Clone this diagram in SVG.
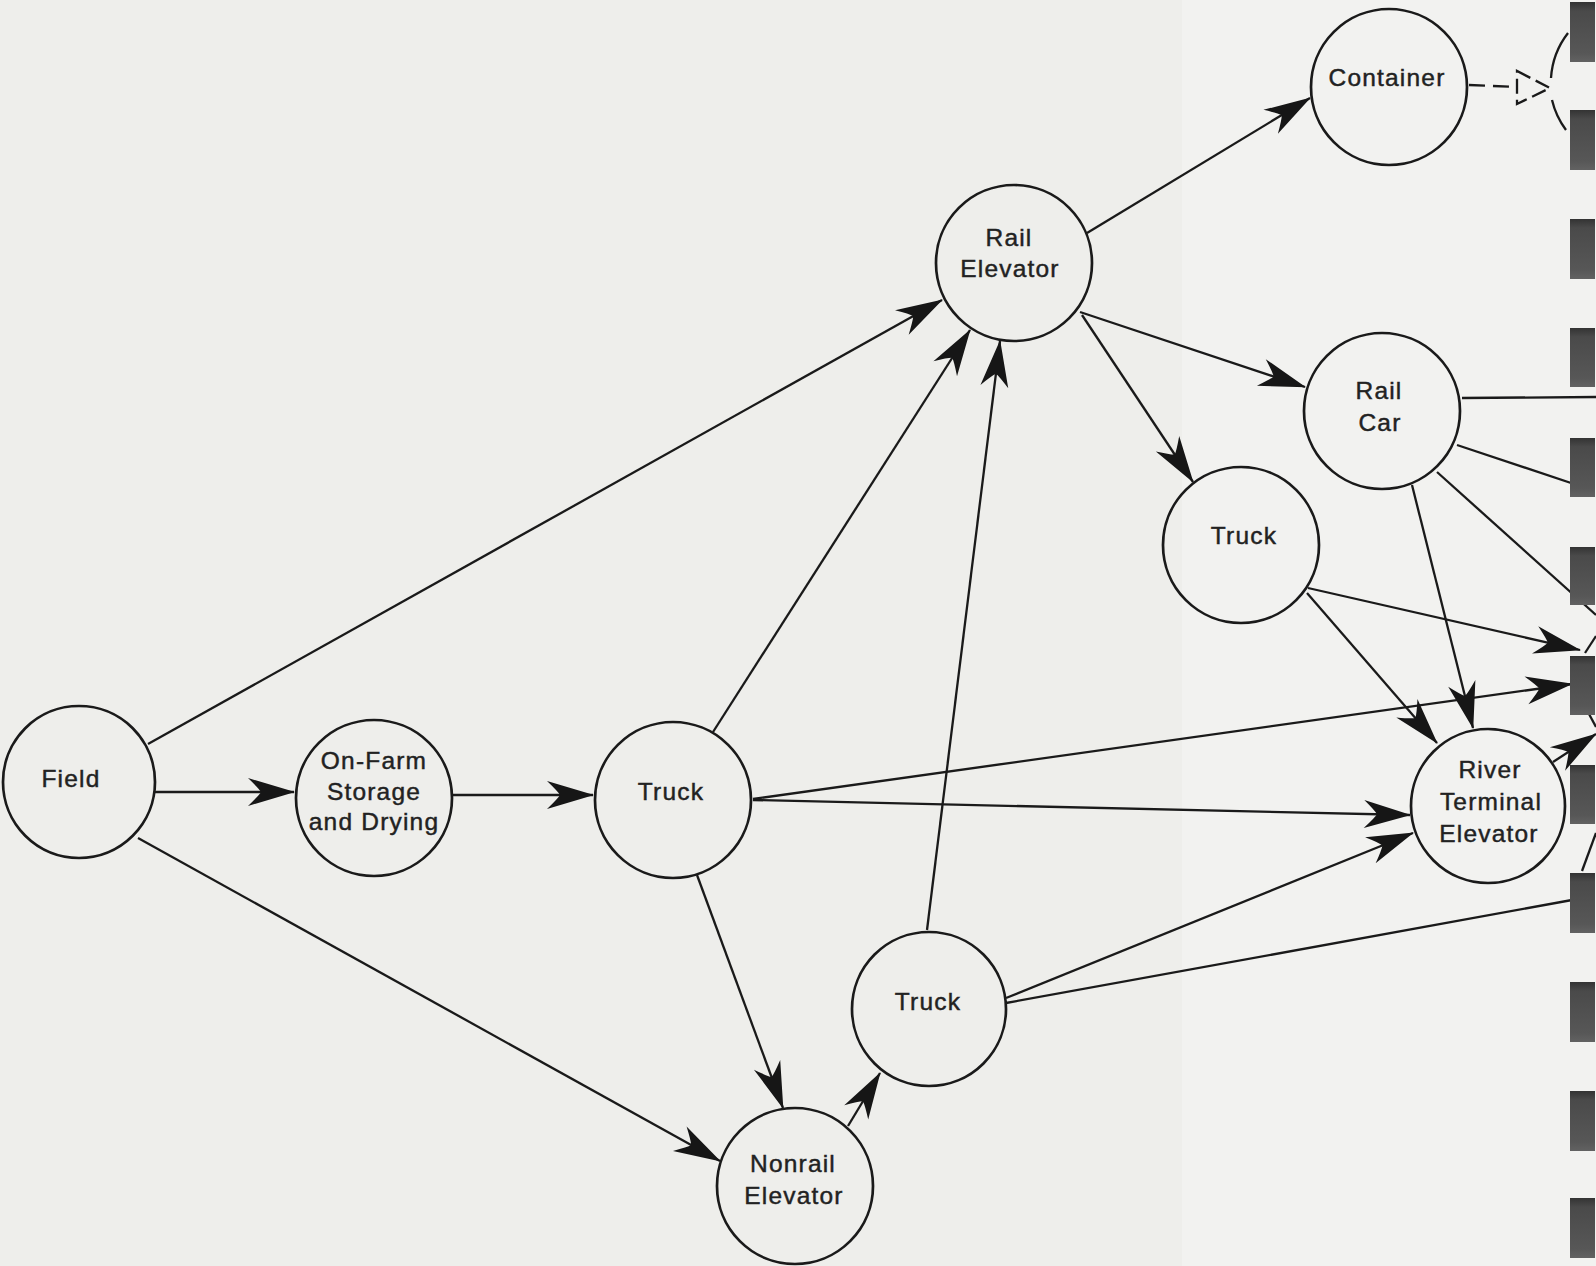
<svg xmlns="http://www.w3.org/2000/svg" width="1596" height="1266" viewBox="0 0 1596 1266">
<style>
.node circle{fill:none;stroke:#1a1a1a;stroke-width:2.7}
.node text{font-family:"Liberation Sans",Arial,sans-serif;font-size:24.5px;letter-spacing:1.2px;fill:#222;stroke:#222;stroke-width:0.45;text-anchor:middle}
.edge{stroke:#1a1a1a;stroke-width:2.3;fill:none}
.arr{marker-end:url(#ah)}
.bar{fill:url(#bg)}
.dash{stroke:#1a1a1a;stroke-width:2.3;fill:none}
</style>
<defs>
<marker id="ah" markerUnits="userSpaceOnUse" viewBox="-50 -16 52 32" refX="0" refY="0" markerWidth="52" markerHeight="32" orient="auto">
<path d="M1,0 L-46,-14 Q-35,-3.5 -33,0 Q-35,3.5 -46,14 Z" fill="#161616"/>
</marker>
<linearGradient id="bg" x1="0" y1="0" x2="0" y2="1">
<stop offset="0" stop-color="#333"/>
<stop offset="0.15" stop-color="#4a4a4a"/>
<stop offset="0.85" stop-color="#575757"/>
<stop offset="1" stop-color="#626262"/>
</linearGradient>
</defs>
<rect width="1596" height="1266" fill="#eeeeeb"/>
<rect x="1182" y="0" width="414" height="1266" fill="#f2f2f0"/>
<g id="connectors">
<line class="edge arr" x1="148" y1="744" x2="942" y2="300"/>
<line class="edge arr" x1="155" y1="792" x2="294" y2="792"/>
<line class="edge arr" x1="138" y1="838" x2="720" y2="1161"/>
<line class="edge arr" x1="452" y1="795" x2="593" y2="795"/>
<line class="edge arr" x1="713" y1="732" x2="970" y2="330"/>
<line class="edge arr" x1="927" y1="930" x2="1000" y2="341"/>
<line class="edge arr" x1="697" y1="875" x2="783" y2="1108"/>
<line class="edge arr" x1="753" y1="800" x2="1410" y2="815"/>
<line class="edge arr" x1="753" y1="799" x2="1572" y2="684"/>
<line class="edge arr" x1="848" y1="1126" x2="880" y2="1073"/>
<line class="edge arr" x1="1006" y1="998" x2="1413" y2="833"/>
<line class="edge" x1="1006" y1="1003" x2="1572" y2="900"/>
<line class="edge arr" x1="1087" y1="233" x2="1310" y2="98"/>
<line class="edge arr" x1="1080" y1="312" x2="1305" y2="387"/>
<line class="edge arr" x1="1082" y1="315" x2="1193" y2="482"/>
<line class="edge" x1="1462" y1="398" x2="1596" y2="397"/>
<line class="edge" x1="1457" y1="445" x2="1580" y2="486"/>
<line class="edge" x1="1437" y1="472" x2="1596" y2="615"/>
<line class="edge arr" x1="1412" y1="485" x2="1473" y2="728"/>
<line class="edge arr" x1="1307" y1="593" x2="1437" y2="743"/>
<line class="edge arr" x1="1308" y1="588" x2="1580" y2="650"/>
<line class="edge arr" x1="1553" y1="762" x2="1596" y2="734"/>
<line class="edge" x1="1585" y1="653" x2="1596" y2="636"/>
<line class="edge" x1="1589" y1="714" x2="1596" y2="727"/>
<line class="edge" x1="1582" y1="871" x2="1596" y2="833"/>
<line class="dash" x1="1469" y1="85" x2="1518" y2="87" stroke-dasharray="16 8"/>
<polygon class="dash" points="1517,71 1550,88 1517,104" stroke-dasharray="15 6"/>
<path class="dash" d="M1568,33 A82,82 0 0 0 1551,78"/>
<path class="dash" d="M1552,100 A82,82 0 0 0 1566,130"/>
</g>
<g id="field" class="node"><circle cx="79" cy="782" r="76"/><text x="71" y="787">Field</text></g>
<g id="onfarm" class="node"><circle cx="374" cy="798" r="78"/><text x="374" y="769">On-Farm</text><text x="374" y="800">Storage</text><text x="374" y="830">and Drying</text></g>
<g id="truck1" class="node"><circle cx="673" cy="800" r="78"/><text x="671" y="800">Truck</text></g>
<g id="nonrail" class="node"><circle cx="795" cy="1186" r="78"/><text x="793" y="1172">Nonrail</text><text x="794" y="1204">Elevator</text></g>
<g id="truck2" class="node"><circle cx="929" cy="1009" r="77"/><text x="928" y="1010">Truck</text></g>
<g id="railelevator" class="node"><circle cx="1014" cy="263" r="78"/><text x="1009" y="246">Rail</text><text x="1010" y="277">Elevator</text></g>
<g id="container" class="node"><circle cx="1389" cy="87" r="78"/><text x="1387" y="86">Container</text></g>
<g id="railcar" class="node"><circle cx="1382" cy="411" r="78"/><text x="1379" y="399">Rail</text><text x="1380" y="431">Car</text></g>
<g id="truck3" class="node"><circle cx="1241" cy="545" r="78"/><text x="1244" y="544">Truck</text></g>
<g id="river" class="node"><circle cx="1488" cy="806" r="77"/><text x="1490" y="778">River</text><text x="1491" y="810">Terminal</text><text x="1489" y="842">Elevator</text></g>
<g id="bars">
<rect class="bar" x="1570" y="2" width="25" height="60"/>
<rect class="bar" x="1570" y="110" width="25" height="60"/>
<rect class="bar" x="1570" y="219" width="25" height="60"/>
<rect class="bar" x="1570" y="328" width="25" height="59"/>
<rect class="bar" x="1570" y="438" width="25" height="59"/>
<rect class="bar" x="1570" y="547" width="25" height="58"/>
<rect class="bar" x="1570" y="656" width="25" height="59"/>
<rect class="bar" x="1570" y="765" width="25" height="59"/>
<rect class="bar" x="1570" y="873" width="25" height="60"/>
<rect class="bar" x="1570" y="982" width="25" height="60"/>
<rect class="bar" x="1570" y="1091" width="25" height="60"/>
<rect class="bar" x="1570" y="1198" width="25" height="60"/>
</g>
</svg>
